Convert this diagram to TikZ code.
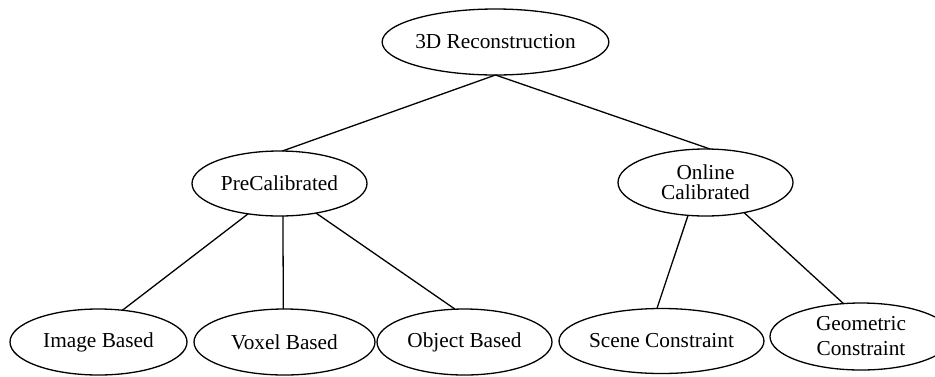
\documentclass[tikz,border=0pt]{standalone}
\usepackage{fontspec}
\setmainfont{Liberation Serif}
\usetikzlibrary{shapes.geometric}
\begin{document}
\begin{tikzpicture}[x=1pt,y=-1pt,
  ell/.style={ellipse, draw, line width=1.3pt, inner sep=0pt, outer sep=0pt, align=center,
    font=\fontsize{21.3}{25}\selectfont},
  edge/.style={line width=1.3pt}]
\useasboundingbox (0,0) rectangle (935,376);
\node[ell, minimum width=175, minimum height=66] (root) at (495.5,42) {3D Reconstruction};
\node[ell, minimum width=175, minimum height=65] (pre) at (279.5,183.5) {PreCalibrated};
\node[ell, minimum width=175, minimum height=67] (online) at (705.5,182.5) {Online\\[-5pt]Calibrated};
\node[ell, minimum width=177, minimum height=66] (image) at (98.5,342) {Image Based};
\node[ell, minimum width=181, minimum height=66] (voxel) at (284.5,342) {Voxel Based};
\node[ell, minimum width=175, minimum height=66] (object) at (464.5,342) {Object Based};
\node[ell, minimum width=173, minimum height=65] (scene) at (661.5,341) {Scene Constraint};
\node[ell, minimum width=182, minimum height=67] (geo) at (861,336.5) {Geometric\\Constraint};
\draw[edge] (root.south) -- (pre.85.6);
\draw[edge] (root.south) -- (online.82);
\draw[edge] (pre.-136) -- (image.53.5);
\draw[edge] (pre.-84.7) -- (voxel.92.6);
\draw[edge] (pre.-39.9) -- (object.106.2);
\draw[edge] (online.-118.1) -- (scene.98);
\draw[edge] (online.-38.9) -- (geo.118.8);
\end{tikzpicture}
\end{document}
